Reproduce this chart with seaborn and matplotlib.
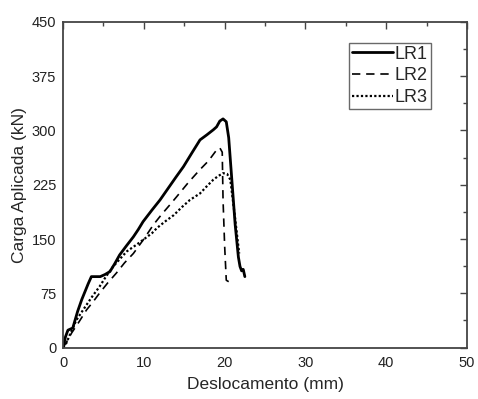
import numpy as np
import pandas as pd
import matplotlib
matplotlib.use("Agg")
import matplotlib.pyplot as plt
import seaborn as sns
from matplotlib.ticker import MultipleLocator

# ------------------- Data ------------------- #
lr1_x = [0, 0.3, 0.6, 1.2, 1.8, 2.3, 2.7, 3.1, 3.5, 4.6, 5.2, 5.8, 6.4, 7.0, 7.8, 8.7,
         9.3, 9.9, 11.0, 12.0, 13.0, 14.0, 14.9, 16.0, 16.95, 17.8, 18.6, 19.0, 19.4,
         19.8, 20.2, 20.5, 20.9, 21.3, 21.7, 21.9, 22.1, 22.3, 22.4, 22.5]
lr1_y = [0, 15, 24, 27, 50, 66, 77, 88, 98, 98, 101, 105, 116, 128, 140, 153,
         163, 174, 190, 204, 220, 236, 250, 270, 287, 294, 301, 305, 313,
         316, 312, 290, 230, 170, 125, 112, 106, 108, 103, 98]

lr2_x = [0, 0.5, 1.05, 2.0, 2.9, 3.7, 4.5, 5.5, 6.6, 7.6, 8.7, 10.0, 11.2, 12.2, 13.2,
         14.1, 15.5, 16.95, 18.0, 19.0, 19.4, 19.7, 19.8, 20.0, 20.2, 20.5]
lr2_y = [0, 9, 20, 36, 52, 63, 75, 89, 103, 117, 130, 150, 170, 184, 197,
         209, 228, 246, 258, 273, 276, 270, 204, 140, 93, 91]

lr3_x = [0, 0.4, 1.0, 1.65, 2.3, 2.9, 3.7, 4.5, 5.3, 6.2, 7.0, 7.9, 9.2, 10.4, 11.0,
         11.6, 12.6, 13.7, 14.7, 15.7, 16.95, 17.8, 18.6, 19.2, 19.8, 20.3, 20.7,
         21.0, 21.3, 21.6, 21.8]
lr3_y = [0, 6, 22, 38, 49, 59, 72, 84, 98, 112, 122, 133, 143, 153, 158,
         165, 174, 183, 194, 204, 213, 223, 232, 237, 241, 240, 232,
         205, 178, 149, 130]

labels = ["LR1", "LR2", "LR3"]

df = pd.concat([
    pd.DataFrame({"x": lr1_x, "y": lr1_y, "serie": "LR1"}),
    pd.DataFrame({"x": lr2_x, "y": lr2_y, "serie": "LR2"}),
    pd.DataFrame({"x": lr3_x, "y": lr3_y, "serie": "LR3"}),
], ignore_index=True)

# ------------------- Plot ------------------- #
sns.set_style("white")
plt.rcParams['font.family'] = ['Liberation Sans', 'DejaVu Sans']

fig = plt.figure(figsize=(4.78, 3.99), dpi=100)
ax = fig.add_axes([0.132, 0.129, 0.845, 0.816])

styles = {"LR1": ("-", 2.0), "LR2": ((0, (5, 3.5)), 1.2), "LR3": ((0, (1, 1)), 1.6)}
for name in labels:
    ls, lw = styles[name]
    sns.lineplot(data=df[df["serie"] == name], x="x", y="y", sort=False,
                 color="black", linestyle=ls, linewidth=lw, label=name, ax=ax)

ax.set_xlim(0, 50)
ax.set_ylim(0, 450)
ax.xaxis.set_major_locator(MultipleLocator(10))
ax.xaxis.set_minor_locator(MultipleLocator(5))
ax.yaxis.set_major_locator(MultipleLocator(75))
ax.yaxis.set_minor_locator(MultipleLocator(37.5))
ax.tick_params(which="both", direction="in", top=True, right=True,
               labeltop=False, labelright=False, color="#444444", width=1,
               labelsize=10.5, labelcolor="#222222")
ax.tick_params(which="major", length=5)
ax.tick_params(which="minor", length=3)
ax.tick_params(axis="x", pad=6)
ax.tick_params(axis="y", pad=5)
for sp in ax.spines.values():
    sp.set_color("#444444")
    sp.set_linewidth(1.3)

ax.set_xlabel("Deslocamento (mm)", fontsize=12.5, labelpad=5)
ax.set_ylabel("Carga Aplicada (kN)", fontsize=12.5, labelpad=3)

leg = ax.legend(loc="upper right", bbox_to_anchor=(0.91, 0.935), frameon=True,
                fancybox=False, fontsize=13, handlelength=2.3, handletextpad=0.1,
                borderpad=0.15, labelspacing=0.25, borderaxespad=0)
leg.get_frame().set_edgecolor("#444444")
leg.get_frame().set_linewidth(1.0)

fig.savefig("out.png", dpi=100)
